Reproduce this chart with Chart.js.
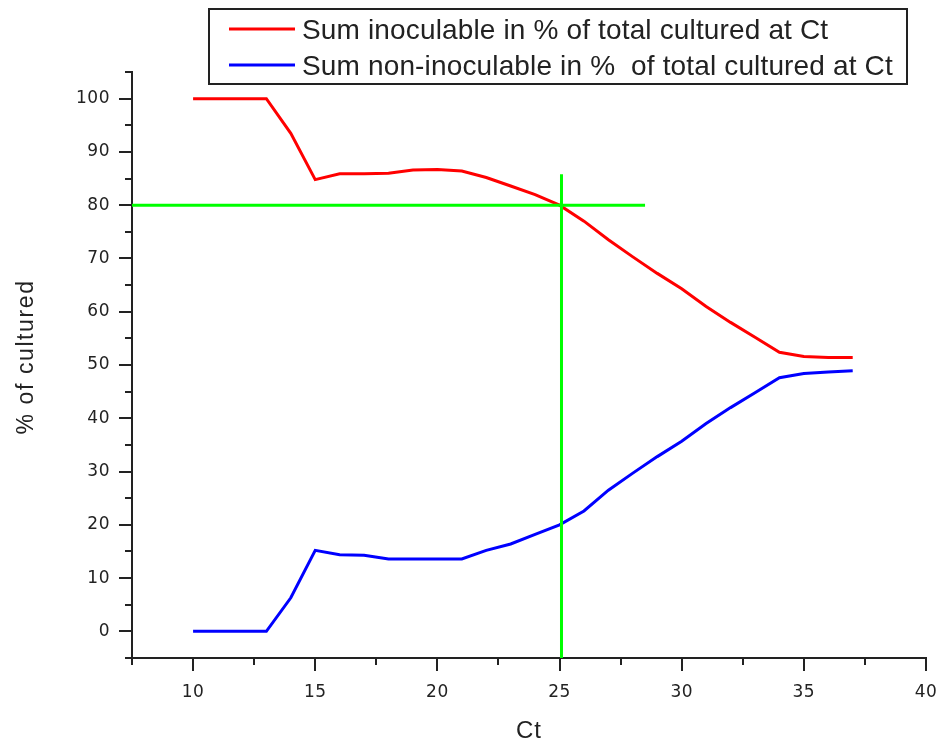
<!DOCTYPE html>
<html>
<head>
<meta charset="utf-8">
<script src="https://cdn.jsdelivr.net/npm/chart.js@4/dist/chart.umd.min.js"></script>
<style>
  html, body { margin: 0; padding: 0; background: #fff; }
  canvas { display: block; }
</style>
</head>
<body>
<canvas id="ctChart" width="940" height="744"></canvas>
<script>
// Ct values (x)
const ctValues = [10, 11, 12, 13, 14, 15, 16, 17, 18, 19, 20, 21, 22, 23, 24, 25, 26, 27, 28, 29, 30, 31, 32, 33, 34, 35, 36, 37];
// sum inoculable, % of total cultured
const inoculable = [100, 100, 100, 100, 93.5, 84.8, 85.9, 85.9, 86.0, 86.6, 86.7, 86.4, 85.2, 83.6, 82.0, 80.0, 77.0, 73.5, 70.3, 67.2, 64.3, 61.0, 58.0, 55.2, 52.4, 51.6, 51.4, 51.4];
// sum non-inoculable, % of total cultured
const nonInoculable = [0, 0, 0, 0, 6.3, 15.2, 14.4, 14.3, 13.6, 13.6, 13.6, 13.6, 15.2, 16.4, 18.2, 20.0, 22.6, 26.5, 29.7, 32.8, 35.7, 39.0, 42.0, 44.8, 47.6, 48.4, 48.7, 48.9];

// green guide lines (80 % level and Ct = 25)
const guideHx = [7.5, 28.5];
const guideHy = [80, 80];
const guideVx = [25.08, 25.08];
const guideVy = [-5, 85.8];

// tick values
const xTicks = [10, 15, 20, 25, 30, 35, 40];
const xMinor = [7.5, 12.5, 17.5, 22.5, 27.5, 32.5, 37.5];
const yTicks = [0, 10, 20, 30, 40, 50, 60, 70, 80, 90, 100];
const yMinor = [-5, 5, 15, 25, 35, 45, 55, 65, 75, 85, 95, 105];

const legendLabels = [
  'Sum inoculable in % of total cultured at Ct',
  'Sum non-inoculable in %  of total cultured at Ct'
];
const seriesColors = ['#ff0000', '#0000ff'];

function toPoints(xs, ys) {
  return xs.map((x, i) => ({ x: x, y: ys[i] }));
}

// tick marks, axis titles and the boxed legend
const decorPlugin = {
  id: 'decor',
  beforeDraw(chart) {
    chart.ctx.letterSpacing = '0.5px';
  },
  afterDraw(chart) {
    const ctx = chart.ctx;
    const xs = chart.scales.x;
    const ys = chart.scales.y;
    const area = chart.chartArea;
    ctx.save();
    ctx.letterSpacing = '0px';
    ctx.strokeStyle = '#222';
    ctx.lineWidth = 2;
    ctx.beginPath();
    xTicks.forEach(v => {
      const px = Math.round(xs.getPixelForValue(v));
      ctx.moveTo(px, area.bottom); ctx.lineTo(px, area.bottom + 13);
    });
    xMinor.forEach(v => {
      const px = Math.round(xs.getPixelForValue(v));
      ctx.moveTo(px, area.bottom); ctx.lineTo(px, area.bottom + 7);
    });
    yTicks.forEach(v => {
      const py = Math.round(ys.getPixelForValue(v));
      ctx.moveTo(area.left, py); ctx.lineTo(area.left - 13, py);
    });
    yMinor.forEach(v => {
      const py = Math.round(ys.getPixelForValue(v));
      ctx.moveTo(area.left, py); ctx.lineTo(area.left - 7, py);
    });
    ctx.stroke();

    // axis titles
    ctx.fillStyle = '#222';
    ctx.font = '24px "Liberation Sans", Arial, sans-serif';
    ctx.textAlign = 'center';
    ctx.textBaseline = 'alphabetic';
    ctx.letterSpacing = '1px';
    ctx.fillText('Ct', (area.left + area.right) / 2, 738);
    ctx.save();
    ctx.translate(33, 357);
    ctx.rotate(-Math.PI / 2);
    ctx.font = '23px "Liberation Sans", Arial, sans-serif';
    ctx.letterSpacing = '1.6px';
    ctx.fillText('% of cultured', 0, 0);
    ctx.restore();

    // legend box
    ctx.letterSpacing = '0.15px';
    ctx.lineWidth = 2;
    ctx.strokeStyle = '#222';
    ctx.strokeRect(209, 9, 698, 75);
    ctx.font = '28px "Liberation Sans", Arial, sans-serif';
    ctx.textAlign = 'left';
    const rows = [29, 65];
    legendLabels.forEach((label, i) => {
      ctx.strokeStyle = seriesColors[i];
      ctx.lineWidth = 3;
      ctx.beginPath();
      ctx.moveTo(229, rows[i]); ctx.lineTo(295, rows[i]);
      ctx.stroke();
      ctx.fillStyle = '#222';
      ctx.fillText(label, 302, rows[i] + 10);
    });
    ctx.restore();
  }
};

new Chart(document.getElementById('ctChart'), {
  type: 'line',
  data: {
    datasets: [
      {
        label: 'guide-h',
        data: toPoints(guideHx, guideHy),
        borderColor: '#00ff00',
        borderWidth: 3,
        order: 0
      },
      {
        label: 'guide-v',
        data: toPoints(guideVx, guideVy),
        borderColor: '#00ff00',
        borderWidth: 3,
        order: 0
      },
      {
        label: legendLabels[0],
        data: toPoints(ctValues, inoculable),
        borderColor: seriesColors[0],
        borderWidth: 3,
        order: 1
      },
      {
        label: legendLabels[1],
        data: toPoints(ctValues, nonInoculable),
        borderColor: seriesColors[1],
        borderWidth: 3,
        order: 1
      }
    ]
  },
  options: {
    responsive: false,
    animation: false,
    devicePixelRatio: 1,
    elements: {
      point: { radius: 0, hoverRadius: 0 },
      line: { tension: 0, fill: false, borderCapStyle: 'butt' }
    },
    layout: { padding: { left: 0, top: 72, right: 14, bottom: 0 } },
    plugins: {
      legend: { display: false },
      tooltip: { enabled: false },
      title: { display: false }
    },
    scales: {
      x: {
        type: 'linear',
        position: 'bottom',
        min: 7.5,
        max: 40,
        grid: { display: false, drawTicks: false },
        border: { display: true, color: '#222', width: 2 },
        afterBuildTicks: s => { s.ticks = xTicks.map(v => ({ value: v })); },
        afterFit: s => { s.height = 86; s.paddingLeft = 0; s.paddingRight = 0; },
        ticks: {
          padding: 24,
          color: '#222',
          font: { family: '"DejaVu Sans", sans-serif', size: 17 }
        }
      },
      y: {
        type: 'linear',
        position: 'left',
        min: -5,
        max: 105,
        grid: { display: false, drawTicks: false },
        border: { display: true, color: '#222', width: 2 },
        afterBuildTicks: s => { s.ticks = yTicks.map(v => ({ value: v })); },
        afterFit: s => { s.width = 132; s.paddingTop = 0; s.paddingBottom = 0; },
        ticks: {
          padding: 22,
          color: '#222',
          font: { family: '"DejaVu Sans", sans-serif', size: 17 }
        }
      }
    }
  },
  plugins: [decorPlugin]
});
</script>
</body>
</html>
